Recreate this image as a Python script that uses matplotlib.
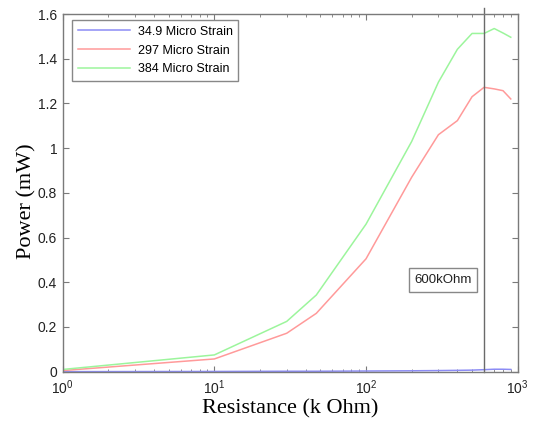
import matplotlib
matplotlib.use("Agg")
import matplotlib.pyplot as plt

# Load resistance (k Ohm) and harvested power (mW) for three strain levels
resistance = [1, 10, 30, 47, 100, 200, 300, 400, 500, 600, 700, 800, 900]
power_34_9 = [0.0002, 0.001, 0.002, 0.002, 0.003, 0.004, 0.005, 0.006, 0.007, 0.009, 0.011, 0.011, 0.010]
power_297 = [0.005, 0.057, 0.172, 0.261, 0.505, 0.87, 1.06, 1.123, 1.23, 1.272, 1.265, 1.257, 1.22]
power_384 = [0.01, 0.075, 0.225, 0.343, 0.66, 1.03, 1.295, 1.442, 1.513, 1.513, 1.535, 1.515, 1.496]
series_labels = ["34.9 Micro Strain", "297 Micro Strain", "384 Micro Strain"]
optimum_load = 600
optimum_text = "600kOhm"

fig = plt.figure(figsize=(5.34, 4.23), dpi=100)
ax = fig.add_axes([0.1174, 0.1213, 0.8521, 0.8456])

colors = ["#8c8cf5", "#ff9a9a", "#9cf59c"]
for p, c, lab in zip([power_34_9, power_297, power_384], colors, series_labels):
    ax.plot(resistance, p, color=c, lw=1.1, label=lab)

ax.set_xscale("log")
ax.set_xlim(1, 1000)
ax.set_ylim(0, 1.6)
ax.set_yticks([0, 0.2, 0.4, 0.6, 0.8, 1.0, 1.2, 1.4, 1.6])
ax.set_yticklabels(["0", "0.2", "0.4", "0.6", "0.8", "1", "1.2", "1.4", "1.6"])

# optimum-load marker
ax.plot([optimum_load, optimum_load], [0, 1.627], color="#6a6a6a", lw=1.0, clip_on=False)
ax.text(321, 0.41, optimum_text, fontsize=9.5, family=["Liberation Sans", "DejaVu Sans"],
        ha="center", va="center", color="#222222",
        bbox=dict(boxstyle="square,pad=0.42", fc="white", ec="#888888", lw=1.0))

spine_color = "#7a7a7a"
for s in ax.spines.values():
    s.set_color(spine_color)
    s.set_linewidth(1.0)
ax.tick_params(which="both", direction="in", top=True, right=True, color=spine_color)
ax.tick_params(which="major", length=4, labelsize=10, labelcolor="#222222")
ax.tick_params(axis="x", which="major", pad=5)
ax.tick_params(axis="y", which="major", pad=4)
ax.tick_params(which="minor", length=2)
for lab in ax.get_xticklabels() + ax.get_yticklabels():
    lab.set_family(["Liberation Sans", "DejaVu Sans"])

ax.set_xlabel("Resistance (k Ohm)", family=["Liberation Serif", "DejaVu Serif"], fontsize=16)
ax.set_ylabel("Power (mW)", family=["Liberation Serif", "DejaVu Serif"], fontsize=16)
ax.xaxis.set_label_coords(0.5, -0.076)
ax.yaxis.set_label_coords(-0.078, 0.477)
ax.yaxis.label.set_va("center")

leg = ax.legend(loc="upper left", bbox_to_anchor=(0.1348, 0.9527), bbox_transform=fig.transFigure,
                prop={"family": ["Liberation Sans", "DejaVu Sans"], "size": 9},
                fancybox=False, edgecolor="#888888", framealpha=1, borderpad=0.45,
                labelspacing=0.55, handlelength=4.2, handletextpad=0.6, borderaxespad=0)
leg.get_frame().set_linewidth(1.0)

fig.savefig("out.png", dpi=100)
